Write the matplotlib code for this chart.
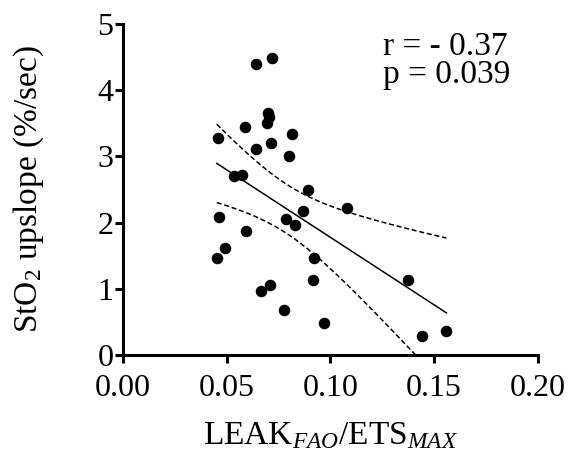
import numpy as np
import matplotlib
matplotlib.use("Agg")
import matplotlib.pyplot as plt

plt.rcParams['font.family'] = ['Liberation Serif', 'DejaVu Serif']
plt.rcParams['mathtext.fontset'] = 'custom'
plt.rcParams['mathtext.rm'] = 'Liberation Serif'
plt.rcParams['mathtext.it'] = 'Liberation Serif:italic'

# LEAK(FAO)/ETS(MAX) ratio and StO2 upslope (%/sec) per subject
leak_ratio = [0.064, 0.0716, 0.0697, 0.0703, 0.0693, 0.0589, 0.0457, 0.0639,
              0.0714, 0.0816, 0.0799, 0.0537, 0.0574, 0.0894, 0.108, 0.0869,
              0.0787, 0.0828, 0.0463, 0.0594, 0.0492, 0.0452, 0.092, 0.0915,
              0.0711, 0.0664, 0.0774, 0.0970, 0.1372, 0.1443, 0.1559]
sto2_upslope = [4.40, 4.49, 3.66, 3.60, 3.51, 3.44, 3.28, 3.11,
                3.20, 3.34, 3.00, 2.71, 2.72, 2.49, 2.22, 2.17,
                2.06, 1.97, 2.08, 1.88, 1.61, 1.47, 1.46, 1.13,
                1.06, 0.96, 0.68, 0.49, 1.13, 0.29, 0.36]

# Regression line as reported (slope, intercept) and residual SD
fit_slope = -20.4
fit_intercept = 3.817
fit_resid_sd = 1.01

x_ticks = [0.00, 0.05, 0.10, 0.15, 0.20]
x_tick_labels = ["0.00", "0.05", "0.10", "0.15", "0.20"]
y_ticks = [0, 1, 2, 3, 4, 5]
stats_lines = ["r = - 0.37", "p = 0.039"]

x = np.array(leak_ratio)
y = np.array(sto2_upslope)
n = len(x)

# Fitted line with 95% confidence band of the mean
t_crit = 2.045  # two-sided 95%, df = 29
xf = np.linspace(x.min(), x.max(), 200)
yf = fit_slope * xf + fit_intercept
se = fit_resid_sd * np.sqrt(1.0 / n + (xf - x.mean()) ** 2 / np.sum((x - x.mean()) ** 2))
upper = yf + t_crit * se
lower = yf - t_crit * se

fig = plt.figure(figsize=(5.71, 4.62), dpi=100)
ax = fig.add_axes([0.2154, 0.2316, 0.7266, 0.7164])

dash = (0, (3.3, 1.8))
ax.plot(xf, yf, color='black', lw=1.1)
ax.plot(xf, upper, color='black', lw=1.1, ls=dash)
ax.plot(xf, lower, color='black', lw=1.1, ls=dash)
ax.plot(x, y, 'o', color='black', markersize=7.3, zorder=3)

ax.set_xlim(0, 0.2)
ax.set_ylim(0, 5)
ax.set_xticks(x_ticks)
ax.set_xticklabels(x_tick_labels)
ax.set_yticks(y_ticks)

for side in ('top', 'right'):
    ax.spines[side].set_visible(False)
for side in ('left', 'bottom'):
    ax.spines[side].set_linewidth(2.2)
ax.tick_params(axis='both', direction='out', length=6, width=2.2,
               labelsize=23)
ax.tick_params(axis='x', pad=7.5)
ax.tick_params(axis='y', pad=1)

ax.set_xlabel(r'LEAK$_{\mathit{FAO}}$/ETS$_{\mathit{MAX}}$', fontsize=24, labelpad=13)
ax.set_ylabel(r'StO$_2$ upslope (%/sec)', fontsize=24, labelpad=37)

ax.text(0.1253, 4.532, stats_lines[0], fontsize=24, ha='left', va='baseline')
ax.text(0.1253, 4.104, stats_lines[1], fontsize=24, ha='left', va='baseline')

fig.savefig('out.png', dpi=100)
